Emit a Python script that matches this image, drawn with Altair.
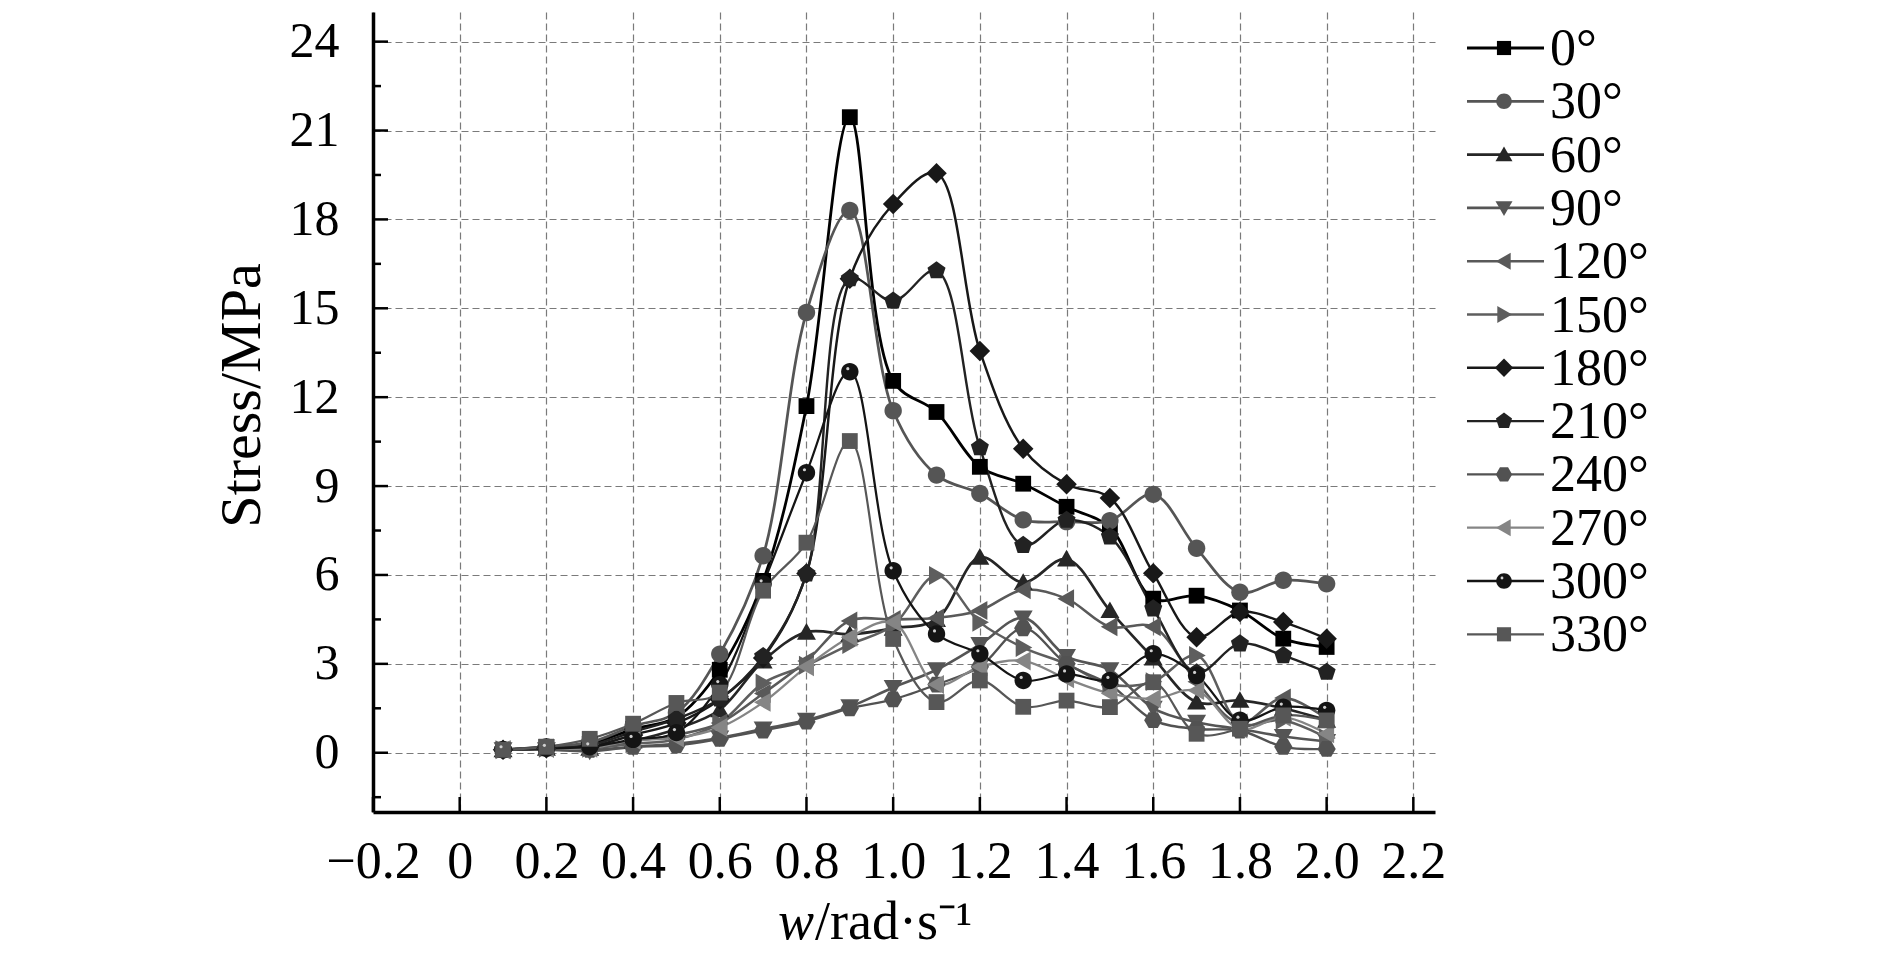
import altair as alt
import pandas as pd

# ---------------- data ----------------
W = [0.1, 0.2, 0.3, 0.4, 0.5, 0.6, 0.7, 0.8, 0.9, 1.0,
     1.1, 1.2, 1.3, 1.4, 1.5, 1.6, 1.7, 1.8, 1.9, 2.0]

ANGLES = ["0°", "30°", "60°", "90°", "120°", "150°",
          "180°", "210°", "240°", "270°", "300°", "330°"]

s0   = [0.1, 0.2, 0.3, 0.8, 1.2, 2.8, 5.8, 11.7, 21.45, 12.55, 11.5, 9.65, 9.08, 8.3, 7.6, 5.2, 5.3, 4.8, 3.85, 3.57]
s30  = [0.1, 0.2, 0.35, 0.9, 1.35, 3.33, 6.65, 14.86, 18.3, 11.54, 9.37, 8.75, 7.86, 7.8, 7.83, 8.72, 6.9, 5.42, 5.82, 5.7]
s60  = [0.1, 0.15, 0.15, 0.4, 0.8, 1.45, 3.1, 4.07, 4.0, 4.2, 4.5, 6.6, 5.75, 6.54, 4.8, 3.2, 1.71, 1.77, 1.5, 1.1]
s90  = [0.1, 0.1, 0.05, 0.2, 0.3, 0.5, 0.8, 1.1, 1.55, 2.2, 2.8, 3.65, 4.55, 3.25, 2.8, 1.5, 1.03, 0.8, 0.55, 0.38]
s120 = [0.1, 0.15, 0.2, 0.4, 0.6, 1.0, 2.0, 3.1, 4.45, 4.5, 4.55, 4.8, 5.5, 5.2, 4.25, 4.25, 2.4, 1.0, 1.85, 1.15]
s150 = [0.1, 0.15, 0.15, 0.3, 0.45, 1.0, 2.35, 2.95, 3.65, 4.3, 5.98, 4.4, 3.55, 3.0, 2.3, 2.4, 3.28, 1.0, 1.1, 0.5]
s180 = [0.1, 0.15, 0.2, 0.6, 1.0, 1.8, 3.2, 6.05, 16.0, 18.52, 19.56, 13.56, 10.26, 9.06, 8.6, 6.06, 3.9, 4.75, 4.41, 3.85]
s210 = [0.1, 0.15, 0.25, 0.7, 1.14, 1.82, 3.25, 6.04, 16.0, 15.25, 16.27, 10.3, 7.0, 7.85, 7.29, 4.86, 2.7, 3.68, 3.28, 2.72]
s240 = [0.1, 0.15, 0.1, 0.2, 0.25, 0.47, 0.75, 1.05, 1.5, 1.8, 2.3, 2.9, 4.2, 3.0, 2.3, 1.1, 0.8, 0.75, 0.2, 0.13]
s270 = [0.1, 0.15, 0.15, 0.42, 0.5, 0.85, 1.7, 2.9, 3.9, 4.4, 2.3, 2.9, 3.1, 2.5, 2.0, 1.82, 2.1, 0.8, 1.2, 0.64]
s300 = [0.1, 0.15, 0.2, 0.45, 0.68, 2.3, 5.7, 9.45, 12.86, 6.14, 4.01, 3.34, 2.44, 2.66, 2.44, 3.34, 2.61, 1.1, 1.54, 1.43]
s330 = [0.1, 0.2, 0.47, 0.98, 1.68, 2.03, 5.47, 7.09, 10.52, 3.84, 1.71, 2.44, 1.55, 1.76, 1.54, 2.38, 0.64, 0.81, 1.26, 1.09]

SERIES = [s0, s30, s60, s90, s120, s150, s180, s210, s240, s270, s300, s330]

Y_TICKS = [0, 3, 6, 9, 12, 15, 18, 21, 24]
Y_MINOR = [-1.5, 1.5, 4.5, 7.5, 10.5, 13.5, 16.5, 19.5, 22.5]
X_TICKS = [-0.2, 0.0, 0.2, 0.4, 0.6, 0.8, 1.0, 1.2, 1.4, 1.6, 1.8, 2.0, 2.2]

X_TITLE_ITALIC = ["w"]
X_TITLE_REST = ["/rad·s⁻¹"]
Y_TITLE = "Stress/MPa"

# ---------------- styles ----------------
COLORS = ["#000000", "#555555", "#262626", "#555555", "#595959", "#5e5e5e",
          "#181818", "#222222", "#525252", "#858585", "#141414", "#575757"]
LINE_W = [2.8, 2.2, 2.6, 2.2, 2.2, 2.2, 2.8, 2.6, 2.2, 2.2, 2.6, 2.2]

SQ = "M-1,-1L1,-1L1,1L-1,1Z"
CI = "M1.1,0A1.1,1.1,0,1,1,-1.1,0A1.1,1.1,0,1,1,1.1,0Z"
TU = "M0,-1.15L1.2,0.95L-1.2,0.95Z"
TD = "M0,1.15L1.2,-0.95L-1.2,-0.95Z"
TL = "M-1.15,0L0.95,-1.2L0.95,1.2Z"
TR = "M1.15,0L-0.95,-1.2L-0.95,1.2Z"
DI = "M0,-1.3L1.3,0L0,1.3L-1.3,0Z"
PE = "M0,-1.2L1.141,-0.371L0.705,0.971L-0.705,0.971L-1.141,-0.371Z"
HX = "M1.15,0L0.575,-1L-0.575,-1L-1.15,0L-0.575,1L0.575,1Z"
MARKERS = [SQ, CI, TU, TD, TL, TR, DI, PE, HX, TL, CI, SQ]

FONT = "Liberation Serif"

rows = []
for a, vals in zip(ANGLES, SERIES):
    for w, s in zip(W, vals):
        rows.append({"angle": a, "w": w, "stress": s})
df = pd.DataFrame(rows)
leg_df = pd.DataFrame({"angle": ANGLES})

xs = alt.Scale(domain=[-0.2, 2.25], nice=False, zero=False)
ys = alt.Scale(domain=[-2, 25], nice=False, zero=False)

x_axis = alt.Axis(values=X_TICKS, labelExpr="datum.value === 0 ? '0' : format(datum.value, '.1f')",
                  grid=True, gridDash=[7, 4], gridColor="#7a7a7a", gridWidth=1.2,
                  domainColor="black", domainWidth=3.5, ticks=False, tickSize=0,
                  labelFont=FONT, labelFontSize=52, labelColor="black", labelPadding=24,
                  labelOverlap=False, labelFlush=False, title=None)
y_axis = alt.Axis(values=Y_TICKS, grid=True, gridDash=[7, 4], gridColor="#7a7a7a", gridWidth=1.2,
                  domainColor="black", domainWidth=3.5, ticks=False, tickSize=0,
                  labelFont=FONT, labelFontSize=50, labelColor="black", labelPadding=34,
                  labelOverlap=False, labelFlush=False,
                  title=Y_TITLE, titleFont=FONT, titleFontSize=58, titleFontWeight="normal",
                  titleColor="black", titlePadding=18, titleY=383)


def X(field):
    return alt.X(field, scale=xs, axis=x_axis)


def Y(field):
    return alt.Y(field, scale=ys, axis=y_axis)


color_scale = alt.Scale(domain=ANGLES, range=COLORS)
shape_scale = alt.Scale(domain=ANGLES, range=MARKERS)

base = alt.Chart(df)

lines = base.mark_line(interpolate="catmull-rom").encode(
    x=X("w:Q"), y=Y("stress:Q"),
    color=alt.Color("angle:N", scale=color_scale, legend=None),
    strokeWidth=alt.StrokeWidth("angle:N", scale=alt.Scale(domain=ANGLES, range=LINE_W), legend=None),
    detail="angle:N",
)

points = base.mark_point(filled=True, size=250, opacity=1).encode(
    x=X("w:Q"), y=Y("stress:Q"),
    color=alt.Color("angle:N", scale=color_scale, legend=None),
    shape=alt.Shape("angle:N", scale=shape_scale, legend=None),
)

highlight = base.transform_filter("datum.angle == '300°'").mark_point(
    filled=True, size=10, color="#d0d0d0", opacity=1, xOffset=-2, yOffset=-3
).encode(x=X("w:Q"), y=Y("stress:Q"))

ymaj = alt.Chart(pd.DataFrame({"v": Y_TICKS})).mark_rule(color="black", strokeWidth=2.5).encode(
    y=Y("v:Q"), x=alt.value(0), x2=alt.value(15))
ymin = alt.Chart(pd.DataFrame({"v": Y_MINOR})).mark_rule(color="black", strokeWidth=2.5).encode(
    y=Y("v:Q"), x=alt.value(0), x2=alt.value(8))
xmaj = alt.Chart(pd.DataFrame({"v": X_TICKS})).mark_rule(color="black", strokeWidth=2.5).encode(
    x=X("v:Q"), y=alt.value(800), y2=alt.value(785))

plot = alt.layer(lines, points, highlight, ymaj, ymin, xmaj)

# ---------------- legend (own point scale for the rows) ----------------
leg_y = alt.Y("angle:N", scale=alt.Scale(type="point", domain=ANGLES, range=[36, 622.3], padding=0),
              axis=None)
leg_base = alt.Chart(leg_df)
leg_lines = leg_base.mark_rule().encode(
    y=leg_y, x=alt.value(1094), x2=alt.value(1171),
    color=alt.Color("angle:N", scale=color_scale, legend=None),
    strokeWidth=alt.StrokeWidth("angle:N", scale=alt.Scale(domain=ANGLES, range=LINE_W), legend=None),
)
leg_pts = leg_base.mark_point(filled=True, size=200, opacity=1).encode(
    y=leg_y, x=alt.value(1131),
    color=alt.Color("angle:N", scale=color_scale, legend=None),
    shape=alt.Shape("angle:N", scale=shape_scale, legend=None),
)
leg_hl = leg_base.transform_filter("datum.angle == '300°'").mark_point(
    filled=True, size=8, color="#d0d0d0", opacity=1, xOffset=-2, yOffset=-3
).encode(y=leg_y, x=alt.value(1131))
leg_txt = leg_base.mark_text(align="left", baseline="middle", font=FONT, fontSize=52,
                             color="black", dy=1).encode(
    y=leg_y, x=alt.value(1177), text="angle:N")

# ---------------- x-axis title: italic w + upright rest ----------------
xt1 = alt.Chart(pd.DataFrame({"t": X_TITLE_ITALIC})).mark_text(
    align="left", baseline="middle", font=FONT, fontSize=54, fontStyle="italic", color="black"
).encode(text="t:N", x=alt.value(405), y=alt.value(911))
xt2 = alt.Chart(pd.DataFrame({"t": X_TITLE_REST})).mark_text(
    align="left", baseline="middle", font=FONT, fontSize=54, color="black"
).encode(text="t:N", x=alt.value(442), y=alt.value(911))

overlay = alt.layer(leg_lines, leg_pts, leg_hl, leg_txt, xt1, xt2)

chart = alt.layer(plot, overlay).resolve_scale(
    y="independent"
).properties(
    width=1062, height=800,
    autosize=alt.AutoSizeParams(type="none"),
    padding={"left": 365, "top": 4, "right": 447, "bottom": 140},
    background="white",
).configure_view(stroke=None)

chart.save("out.html", embed_options={"renderer": "svg", "actions": False})
